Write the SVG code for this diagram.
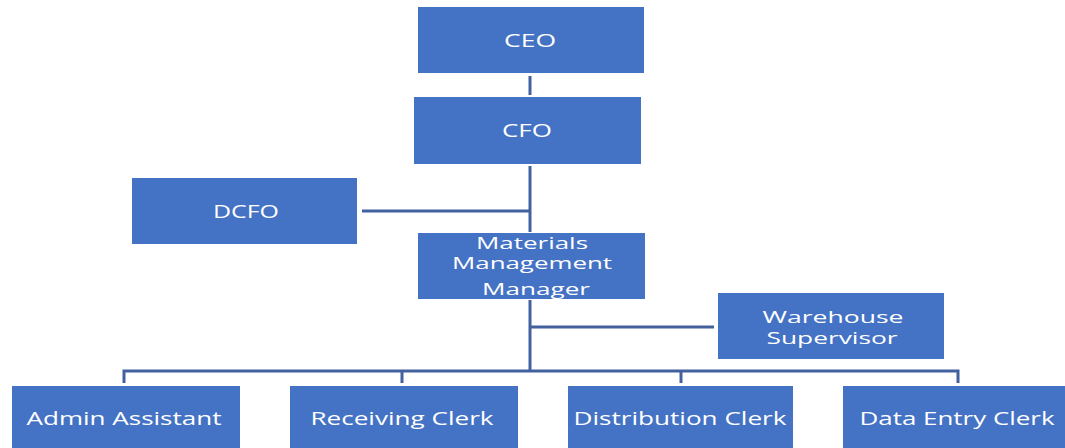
<svg xmlns="http://www.w3.org/2000/svg" width="1065" height="448" viewBox="0 0 1065 448">
<style>
.box{fill:#4472C4;stroke:none}
.t{fill:#FFFFFF;font-family:"Open Sans","Liberation Sans",sans-serif;font-size:18px;text-anchor:middle}
.m{font-size:16px}
.c{stroke:#42619E;stroke-width:3;fill:none}
</style>
<rect width="1065" height="448" fill="#FFFFFF"/>
<g id="connectors">
<line class="c" x1="530" y1="76" x2="530" y2="95"/>
<line class="c" x1="530" y1="166" x2="530" y2="232"/>
<line class="c" x1="362" y1="211" x2="530" y2="211"/>
<line class="c" x1="530" y1="300" x2="530" y2="371"/>
<line class="c" x1="530" y1="327" x2="714" y2="327"/>
<polyline class="c" points="124,383 124,371 958,371 958,383"/>
<line class="c" x1="402" y1="371" x2="402" y2="383"/>
<line class="c" x1="681" y1="371" x2="681" y2="383"/>
</g>
<g id="ceo"><rect class="box" x="418" y="7" width="226" height="66"/><text class="t" x="530" y="47" textLength="52" lengthAdjust="spacingAndGlyphs">CEO</text></g>
<g id="cfo"><rect class="box" x="414" y="97" width="227" height="67"/><text class="t" x="527" y="137" textLength="50" lengthAdjust="spacingAndGlyphs">CFO</text></g>
<g id="dcfo"><rect class="box" x="132" y="178" width="225" height="66"/><text class="t" x="246" y="218" textLength="66" lengthAdjust="spacingAndGlyphs">DCFO</text></g>
<g id="mmm"><rect class="box" x="418" y="233" width="227" height="66"/>
<text class="t m" x="532" y="249" textLength="112" lengthAdjust="spacingAndGlyphs">Materials</text>
<text class="t m" x="532" y="269" textLength="160" lengthAdjust="spacingAndGlyphs">Management</text>
<text class="t m" x="536" y="295" textLength="108" lengthAdjust="spacingAndGlyphs">Manager</text></g>
<g id="warehouse"><rect class="box" x="718" y="293" width="226" height="66"/>
<text class="t m" x="833" y="323" textLength="141" lengthAdjust="spacingAndGlyphs">Warehouse</text>
<text class="t m" x="832" y="344" textLength="131" lengthAdjust="spacingAndGlyphs">Supervisor</text></g>
<g id="admin"><rect class="box" x="12" y="386" width="228" height="66"/><text class="t" x="124" y="425" textLength="195" lengthAdjust="spacingAndGlyphs">Admin Assistant</text></g>
<g id="receiving"><rect class="box" x="290" y="386" width="228" height="66"/><text class="t" x="402" y="425" textLength="183" lengthAdjust="spacingAndGlyphs">Receiving Clerk</text></g>
<g id="distribution"><rect class="box" x="568" y="386" width="225" height="66"/><text class="t" x="680" y="425" textLength="213" lengthAdjust="spacingAndGlyphs">Distribution Clerk</text></g>
<g id="dataentry"><rect class="box" x="843" y="386" width="225" height="66"/><text class="t" x="957" y="425" textLength="195" lengthAdjust="spacingAndGlyphs">Data Entry Clerk</text></g>
</svg>
